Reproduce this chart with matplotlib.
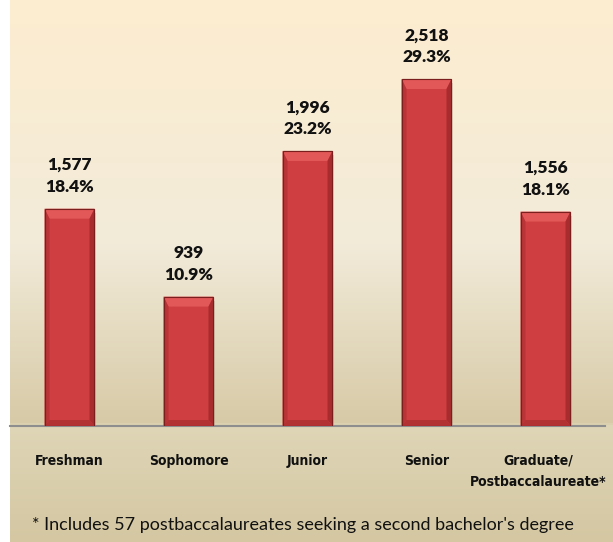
import numpy as np
import matplotlib
matplotlib.use("Agg")
import matplotlib.pyplot as plt
from matplotlib.patches import Polygon, Rectangle
from matplotlib.colors import LinearSegmentedColormap

# data
categories = ["Freshman", "Sophomore", "Junior", "Senior", "Graduate/\nPostbaccalaureate*"]
counts = [1577, 939, 1996, 2518, 1556]
percents = [18.4, 10.9, 23.2, 29.3, 18.1]
footnote = "* Includes 57 postbaccalaureates seeking a second bachelor's degree"

W, H = 613, 542
fig = plt.figure(figsize=(W / 100, H / 100), dpi=100)

# background gradient (full chart area)
bg = fig.add_axes([10 / W, 0, (W - 10) / W, 1])
bg.set_axis_off()
stops = [(0.0, "#FDEDD0"), (0.45, "#F2EBD9"), (0.78, "#D7CAA7"),
         (0.787, "#DFD6B7"), (1.0, "#D4C7A2")]
cmap = LinearSegmentedColormap.from_list("bg", stops)
grad = np.linspace(0, 1, 542).reshape(-1, 1)
bg.imshow(grad, aspect="auto", cmap=cmap, extent=[0, 1, 1, 0])
bg.set_xlim(0, 1)
bg.set_ylim(1, 0)

# plot area
base_px = 426
ax = fig.add_axes([10 / W, (H - base_px) / H, 595 / W, base_px / H])
ax.patch.set_alpha(0)
ymax = base_px / 0.1378
ax.set_ylim(0, ymax)
ax.set_xlim(-0.5, len(categories) - 0.5)
for s in ["top", "right", "left"]:
    ax.spines[s].set_visible(False)
ax.spines["bottom"].set_color("#8E8E8E")
ax.spines["bottom"].set_linewidth(1.5)
ax.set_yticks([])
ax.set_xticks([])

x = np.arange(len(categories))
bw = 0.42
# bevel sizes in data units
bx = 5 / 119
by = 10 * ymax / base_px

for xi, v in zip(x, counts):
    l, r = xi - bw / 2, xi + bw / 2
    # soft shadow
    ax.add_patch(Rectangle((l + 0.015, -by * 0.4), bw, v, facecolor="#000000",
                           alpha=0.10, edgecolor="none", zorder=1))
    ax.bar(xi, v, width=bw, color="#CF3E40", edgecolor="#7A1E1E",
           linewidth=0.8, zorder=2)
    # bevels
    ax.add_patch(Polygon([(l, v), (r, v), (r - bx, v - by), (l + bx, v - by)],
                         closed=True, facecolor="#E25858", edgecolor="none", zorder=3))
    ax.add_patch(Polygon([(l, 0), (l, v), (l + bx, v - by), (l + bx, by * 0.6)],
                         closed=True, facecolor="#B83436", edgecolor="none", zorder=3))
    ax.add_patch(Polygon([(r, 0), (r, v), (r - bx, v - by), (r - bx, by * 0.6)],
                         closed=True, facecolor="#A82C2E", edgecolor="none", zorder=3))
    ax.add_patch(Polygon([(l, 0), (r, 0), (r - bx, by * 0.6), (l + bx, by * 0.6)],
                         closed=True, facecolor="#B23133", edgecolor="none", zorder=3))
    ax.add_patch(Rectangle((l, 0), bw, v, facecolor="none", edgecolor="#7A1E1E",
                           linewidth=0.8, zorder=4))

for xi, v, p in zip(x, counts, percents):
    ax.annotate(f"{v:,}\n{p:.1f}%", (xi, v), xytext=(0, 10), textcoords="offset points",
                ha="center", va="bottom", fontsize=12.5, fontweight="heavy",
                family="Lato", linespacing=1.45, color="#111111")

for xi, c in zip(x, categories):
    dx = -5 if "\n" in c else 0
    ax.annotate(c, (xi, 0), xytext=(dx, -20), textcoords="offset points",
                ha="center", va="top", fontsize=10, fontweight="bold",
                fontstretch="condensed", family="DejaVu Sans", linespacing=1.7,
                color="#111111")

fig.text(32 / W, 1 - 525 / H, footnote, ha="left", va="center", fontsize=13,
         family="Lato", color="#111111")

fig.savefig("out.png", dpi=100)
